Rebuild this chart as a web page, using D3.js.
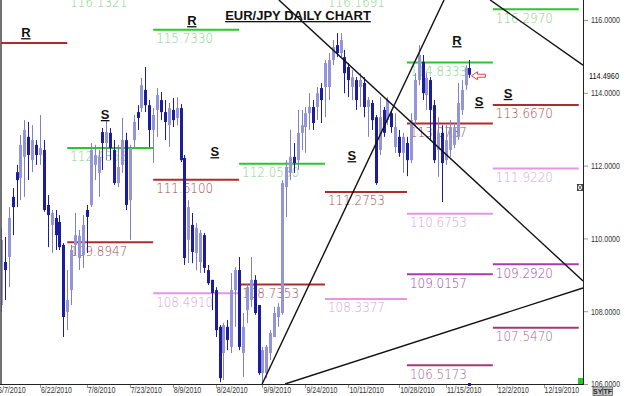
<!DOCTYPE html>
<html>
<head>
<meta charset="utf-8">
<script src="https://cdn.jsdelivr.net/npm/d3@7"></script>
<style>
  html, body { margin: 0; padding: 0; background: #fff; }
  svg { display: block; }
</style>
</head>
<body>
<svg id="chart"></svg>
<script>
// Daily bars, one per trading day, first bar sits at bar index 1
const firstBar = 1;
const opens = [108.17,109.35,109.49,111.14,111.82,111.66,112.24,112.79,112.15,112.57,112.29,112.43,110.92,110.37,110.56,110.45,109.82,107.98,108.58,109.82,
  109.46,109.54,110.78,110.92,112.02,111.80,112.92,112.62,112.90,112.43,111.52,112.02,112.70,111.05,112.70,113.47,113.58,114.08,113.66,112.98,
  113.53,113.80,113.47,113.11,113.53,113.31,113.58,112.21,109.96,110.37,109.60,109.35,110.09,109.13,108.86,108.58,107.57,106.85,107.57,107.02,
  108.58,109.13,106.85,108.03,108.31,108.86,108.17,106.30,106.30,106.85,107.29,107.84,107.95,111.41,111.80,112.24,112.15,112.90,113.06,113.44,
  113.61,113.61,114.13,114.16,114.16,114.90,115.31,115.09,114.98,114.71,114.16,114.35,114.16,114.27,113.61,113.72,113.33,112.43,113.53,113.25,
  113.44,112.51,112.79,112.35,112.62,112.15,113.25,114.35,114.85,113.94,114.35,113.66,112.43,112.90,112.15,112.43,112.57,112.79,113.53,114.21,114.68];
const highs = [110.29,110.04,110.86,111.38,112.02,112.84,113.25,113.20,113.11,112.70,113.39,112.70,111.19,110.78,110.78,110.64,109.87,109.13,109.82,110.70,
  110.23,110.64,110.92,112.62,112.57,112.43,113.03,113.25,113.03,112.70,112.57,113.31,112.90,112.57,113.39,113.66,114.41,114.71,113.80,113.58,
  114.13,114.02,113.80,113.72,113.86,113.88,113.69,112.29,111.05,110.70,110.42,110.23,110.15,109.27,108.86,108.66,107.62,107.68,107.76,109.05,
  109.21,109.49,107.95,108.77,109.49,108.99,108.17,107.02,107.07,107.48,108.12,108.22,111.60,112.15,112.98,112.62,113.53,113.53,113.61,113.99,
  113.80,114.16,114.27,114.90,115.09,115.45,115.64,115.64,115.18,114.82,114.63,114.43,114.54,114.43,113.88,113.80,113.39,113.88,113.61,113.88,
  113.53,113.44,112.98,112.90,112.79,113.44,114.54,115.31,115.04,114.54,114.43,113.80,113.33,113.11,113.11,113.25,113.17,114.27,114.35,114.76,114.90];
const lows = [107.98,108.31,108.66,110.09,110.86,111.05,111.14,111.60,111.82,112.02,112.02,110.73,109.76,109.60,109.68,109.68,107.29,107.48,108.17,109.54,
  109.13,109.19,109.60,110.86,111.60,111.14,111.88,112.15,112.15,111.47,111.41,111.80,110.78,109.96,112.51,112.98,113.47,113.47,112.51,112.07,
  112.79,113.25,112.70,112.51,113.06,113.11,112.10,109.27,109.32,109.32,109.13,109.05,109.05,108.72,108.03,107.29,106.05,106.11,106.93,106.85,
  107.57,106.93,106.19,107.68,108.12,107.90,106.25,106.03,106.16,106.66,107.29,107.57,107.90,110.59,111.60,111.80,111.88,112.43,112.35,112.98,
  112.98,113.25,113.17,113.33,113.80,114.76,114.98,114.98,113.99,113.88,113.80,113.53,113.61,113.33,112.79,112.98,111.47,112.29,112.79,113.11,
  112.90,112.35,112.24,111.80,111.71,112.07,113.06,114.21,113.80,113.53,112.70,112.07,111.69,111.00,112.02,112.24,112.48,112.70,113.39,114.08,114.41];
const closes = [109.96,109.13,110.56,110.86,111.60,112.57,112.98,112.29,112.70,112.29,112.48,110.78,110.64,110.70,110.09,109.76,107.84,108.31,109.68,110.09,
  110.07,110.37,110.59,112.43,112.29,112.24,112.62,112.92,112.48,111.52,111.96,112.70,110.92,112.48,113.20,113.31,114.21,113.66,112.98,113.39,
  113.94,113.47,113.20,113.58,113.25,113.58,112.15,109.46,110.86,109.63,110.29,110.15,109.19,108.77,108.50,107.48,106.16,107.62,107.21,108.58,
  109.13,107.02,107.57,108.66,108.86,107.95,106.30,106.93,107.02,107.40,107.95,108.12,111.52,111.96,112.24,112.07,112.90,113.11,113.44,113.61,
  113.17,113.99,113.80,114.82,114.90,115.26,115.09,115.45,114.54,114.35,114.43,113.80,114.35,113.61,113.80,113.25,111.52,113.33,112.90,113.80,
  113.06,113.06,112.35,112.79,112.15,113.25,114.35,115.04,113.99,114.41,113.53,112.15,112.90,112.07,112.70,113.06,113.03,113.72,114.08,114.68,114.496];
const lastPrice = 114.4960;

// x axis date labels and the bar index they fall on
const tickLabels = ["6/7/2010","6/22/2010","7/8/2010","7/23/2010","8/9/2010","8/24/2010","9/9/2010",
  "9/24/2010","10/11/2010","10/28/2010","11/15/2010","12/2/2010","12/19/2010"];
const tickBars = [0, 11, 23, 34, 45, 56, 68, 79, 90, 103, 115, 128, 140];
const yTicks = [106, 108, 110, 112, 114, 116];

// monthly pivot levels (month bands start at these bar indexes)
const monthStarts = [0, 18, 40, 62, 84, 105, 127, 149];
const levelMonth = [0, 1, 1, 2, 2, 2, 3, 3, 4, 4, 5, 5, 5, 5, 5, 6, 6, 6, 6, 6];
const levelValue = [115.37, 112.4853, 109.8947, 115.7330, 111.6100, 108.4910, 112.0530, 108.7353, 111.2753, 108.3377,
  114.8333, 113.1600, 110.6753, 109.0157, 106.5173, 116.2970, 113.6670, 111.9220, 109.2920, 107.5470];
const levelKind = ["r","g","r","g","r","p","g","r","r","p","g","r","p","v","m","g","r","p","v","m"];
const levelText = ["","112.4853","109.8947","115.7330","111.6100","108.4910","112.0530","108.7353","111.2753","108.3377",
  "114.8333","113.0737","110.6753","109.0157","106.5173","116.2970","113.6670","111.9220","109.2920","107.5470"];
// levels above the visible range, only their labels show at the top edge
const topLabelMonth = [1, 4];
const topLabelText = ["116.1321", "116.1691"];

// trend lines, each as two [bar, price] points
const trendLines = [
  [[72.2, 116.55], [150.1, 108.83]],
  [[126.3, 116.55], [150.1, 114.76]],
  [[67.9, 106.0], [114.5, 116.55]],
  [[73.8, 106.0], [150.1, 108.64]]
];

// R / S markers
const srText = ["R", "R", "S", "S", "S", "R", "S", "S"];
const srBar = [7.4, 49.9, 27.7, 55.8, 90.9, 117.8, 123.5, 130.9];
const srPrice = [115.53, 115.86, 113.28, 112.26, 112.15, 115.31, 113.64, 113.86];

const kindStyle = {
  g: { line: "#2fc42f", text: "#84d284" },
  r: { line: "#b02c2c", text: "#a24c4c" },
  p: { line: "#e496e4", text: "#d8a2d8" },
  v: { line: "#b236b2", text: "#9e449e" },
  m: { line: "#a23a72", text: "#a46488" }
};

const W = 625, H = 396;
const plotLeft = 1, plotRight = 583, plotBottom = 384;

const svg = d3.select("#chart").attr("width", W).attr("height", H);
svg.append("rect").attr("width", W).attr("height", H).attr("fill", "#fff");

// scales: bar index -> pixel, price -> pixel
const x = d3.scaleLinear().domain([0, 115]).range([-3, 446]);
const y = d3.scaleLinear().domain([106, 116]).range([384, 20]);

svg.append("defs").append("clipPath").attr("id", "plotClip")
  .append("rect").attr("x", plotLeft).attr("y", 0)
  .attr("width", plotRight - plotLeft).attr("height", plotBottom);

const plot = svg.append("g").attr("clip-path", "url(#plotClip)");

// pivot level lines and labels
const levels = levelValue.map((v, j) => ({
  v: v, m: levelMonth[j], kind: levelKind[j], text: levelText[j]
}));

plot.append("g").selectAll("line").data(levels).enter().append("line")
  .attr("x1", d => x(monthStarts[d.m]))
  .attr("x2", d => x(monthStarts[d.m + 1]))
  .attr("y1", d => y(d.v))
  .attr("y2", d => y(d.v))
  .attr("stroke", d => kindStyle[d.kind].line)
  .attr("stroke-width", 2);

const labelFont = "'Liberation Sans', Arial, sans-serif";
const levelFont = "'DejaVu Sans', sans-serif";
plot.append("g").selectAll("text").data(levels.filter(d => d.text)).enter().append("text")
  .attr("x", d => x(monthStarts[d.m]) + 3)
  .attr("y", d => y(d.v) + 13.5)
  .attr("fill", d => kindStyle[d.kind].text)
  .attr("font-family", levelFont)
  .attr("font-weight", 200)
  .attr("font-size", "14px")
  .attr("textLength", 57)
  .attr("lengthAdjust", "spacingAndGlyphs")
  .text(d => d.text);

plot.append("g").selectAll("text").data(topLabelText).enter().append("text")
  .attr("x", (d, k) => x(monthStarts[topLabelMonth[k]]) + 3)
  .attr("y", 7)
  .attr("fill", kindStyle.g.text)
  .attr("font-family", levelFont)
  .attr("font-weight", 200)
  .attr("font-size", "14px")
  .attr("textLength", 57)
  .attr("lengthAdjust", "spacingAndGlyphs")
  .text(d => d);

// candles
const bars = opens.map((o, k) => ({
  i: firstBar + k, o: o, h: highs[k], l: lows[k], c: closes[k]
}));
const darkBlue = "#1c1c9e", lightBlue = "#9494d8", lightWick = "#8080c4";

const candle = plot.append("g").selectAll("g").data(bars).enter().append("g");
candle.append("line")
  .attr("x1", d => Math.round(x(d.i)) + 0.5)
  .attr("x2", d => Math.round(x(d.i)) + 0.5)
  .attr("y1", d => y(d.h))
  .attr("y2", d => y(d.l))
  .attr("stroke", d => d.c >= d.o ? lightWick : darkBlue)
  .attr("stroke-width", 1);
candle.append("rect")
  .attr("x", d => Math.round(x(d.i)) - 1)
  .attr("width", 3)
  .attr("y", d => y(Math.max(d.o, d.c)))
  .attr("height", d => Math.max(1.5, Math.abs(y(d.o) - y(d.c))))
  .attr("fill", d => d.c >= d.o ? lightBlue : darkBlue);

// trend lines
const trendPath = d3.line().x(p => x(p[0])).y(p => y(p[1]));
plot.append("g").selectAll("path").data(trendLines).enter().append("path")
  .attr("d", trendPath)
  .attr("fill", "none")
  .attr("stroke", "#111")
  .attr("stroke-width", 1.4);

// R / S markers
plot.append("g").selectAll("text").data(srText).enter().append("text")
  .attr("x", (d, k) => x(srBar[k]))
  .attr("y", (d, k) => y(srPrice[k]))
  .attr("text-anchor", "middle")
  .attr("font-family", labelFont)
  .attr("font-weight", "bold")
  .attr("font-size", "13px")
  .attr("text-decoration", "underline")
  .attr("fill", "#111")
  .text(d => d);

// title
svg.append("text")
  .attr("x", 298).attr("y", 20)
  .attr("text-anchor", "middle")
  .attr("font-family", labelFont)
  .attr("font-weight", "bold")
  .attr("font-size", "13px")
  .attr("text-decoration", "underline")
  .attr("fill", "#111")
  .text("EUR/JPY DAILY CHART");

// frame
svg.append("line").attr("x1", 1).attr("x2", 1).attr("y1", 0).attr("y2", plotBottom)
  .attr("stroke", "#444").attr("stroke-width", 1.5);
svg.append("line").attr("x1", 0).attr("x2", plotRight).attr("y1", plotBottom + 0.5).attr("y2", plotBottom + 0.5)
  .attr("stroke", "#222");
svg.append("line").attr("x1", plotRight + 0.5).attr("x2", plotRight + 0.5).attr("y1", 0).attr("y2", plotBottom + 1)
  .attr("stroke", "#222");

// right price axis
const yAxis = svg.append("g")
  .attr("transform", `translate(${plotRight + 1},0)`)
  .call(d3.axisRight(y).tickValues(yTicks).tickFormat(d3.format(".4f")).tickSize(4).tickPadding(3));
yAxis.select(".domain").remove();
yAxis.selectAll(".tick line").attr("stroke", "#999");
yAxis.selectAll(".tick text")
  .attr("fill", "#333")
  .attr("font-family", labelFont)
  .attr("font-size", "9px")
  .attr("textLength", 29)
  .attr("lengthAdjust", "spacingAndGlyphs");

svg.append("text")
  .attr("x", 589).attr("y", y(lastPrice) + 4)
  .attr("fill", "#111")
  .attr("font-family", labelFont)
  .attr("font-size", "9px")
  .attr("textLength", 30)
  .attr("lengthAdjust", "spacingAndGlyphs")
  .text(d3.format(".4f")(lastPrice));

// date axis
const xAxis = svg.append("g");
xAxis.selectAll("line").data(tickBars).enter().append("line")
  .attr("x1", d => Math.round(x(d)) + 0.5).attr("x2", d => Math.round(x(d)) + 0.5)
  .attr("y1", plotBottom + 1).attr("y2", plotBottom + 4)
  .attr("stroke", "#999");
xAxis.selectAll("text").data(tickLabels).enter().append("text")
  .attr("x", (d, k) => x(tickBars[k]) + 1)
  .attr("y", 393)
  .attr("fill", "#333")
  .attr("font-family", labelFont)
  .attr("font-size", "9px")
  .attr("textLength", d => d.length * 3.45)
  .attr("lengthAdjust", "spacingAndGlyphs")
  .text(d => d);

// last-price arrow and last-bar marker
const lastBar = firstBar + closes.length - 1;
const ax = x(lastBar) + 2, ay = y(lastPrice) + 1;
svg.append("path")
  .attr("d", `M${ax},${ay} l6,-4 v2.5 h8 v3 h-8 v2.5 z`)
  .attr("fill", "none")
  .attr("stroke", "#d44")
  .attr("stroke-width", 1);
svg.append("rect")
  .attr("x", Math.round(x(lastBar)) - 1).attr("y", plotBottom - 1)
  .attr("width", 3).attr("height", 3)
  .attr("fill", darkBlue);

// small chart widgets
svg.append("rect").attr("x", 578).attr("y", 378).attr("width", 5).attr("height", 6).attr("fill", "#1fcc1f");
const box = svg.append("g").attr("stroke", "#222").attr("fill", "none").attr("stroke-width", 0.8);
box.append("rect").attr("x", 577.5).attr("y", 184.5).attr("width", 5).attr("height", 6);
box.append("path").attr("d", "M577.5,184.5 L582.5,190.5 M582.5,184.5 L577.5,190.5");

const buttons = ["SY", "TF"];
const btn = svg.append("g").selectAll("g").data(buttons).enter().append("g")
  .attr("transform", (d, k) => `translate(${593 + k * 10},387)`);
btn.append("rect").attr("width", 9.5).attr("height", 8.5)
  .attr("fill", "#c8c8c8").attr("stroke", "#555").attr("stroke-width", 0.7);
btn.append("text").attr("x", 4.75).attr("y", 7)
  .attr("text-anchor", "middle")
  .attr("font-family", labelFont).attr("font-weight", "bold").attr("font-size", "7px")
  .attr("fill", "#222")
  .text(d => d);
</script>
</body>
</html>
